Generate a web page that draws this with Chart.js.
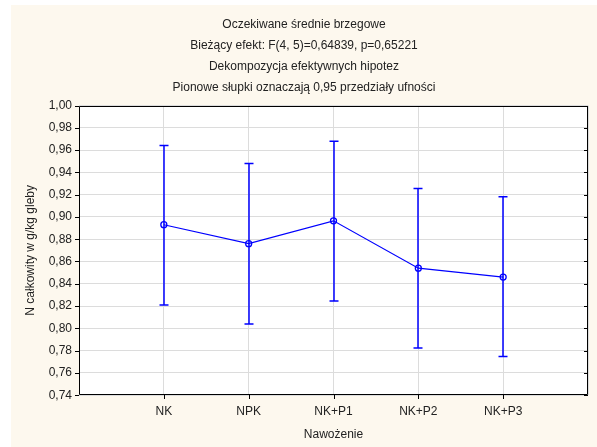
<!DOCTYPE html>
<html><head><meta charset="utf-8">
<script src="https://cdn.jsdelivr.net/npm/chart.js@4.4.0/dist/chart.umd.min.js"></script>
<style>
html,body{margin:0;padding:0;background:#fff;overflow:hidden;}
#wrap{position:absolute;left:0;top:0;width:597px;height:447px;}
canvas{display:block;}
</style></head>
<body><div id="wrap"><canvas id="c" width="597" height="447"></canvas></div>
<script>
const categories = ['NK', 'NPK', 'NK+P1', 'NK+P2', 'NK+P3'];
const means = [0.893, 0.876, 0.8965, 0.854, 0.846];
const lowerCI = [0.821, 0.804, 0.8246, 0.7823, 0.7748];
const upperCI = [0.964, 0.948, 0.968, 0.9256, 0.918];
const titleLines = ['Oczekiwane średnie brzegowe', 'Bieżący efekt: F(4, 5)=0,64839, p=0,65221', 'Dekompozycja efektywnych hipotez', 'Pionowe słupki oznaczają 0,95 przedziały ufności'];
const yTitle = 'N całkowity w g/kg gleby';
const xTitle = 'Nawożenie';

const points = categories.map((c, i) => ({ x: i + 1, y: means[i] }));
const FONT = 'Liberation Sans, Arial, sans-serif';

const bgPlugin = {
  id: 'bg',
  beforeDraw(chart) {
    const ctx = chart.ctx, a = chart.chartArea;
    ctx.save();
    ctx.fillStyle = '#fdf8ee';
    ctx.fillRect(11, 5, chart.width - 11, chart.height - 5);
    ctx.fillStyle = '#ffffff';
    ctx.fillRect(a.left, a.top, a.right - a.left, a.bottom - a.top);
    ctx.restore();
  },
  afterDatasetsDraw(chart) {
    const ctx = chart.ctx;
    const xs = chart.scales.x, ys = chart.scales.y;
    ctx.save();
    ctx.strokeStyle = '#0000ff';
    ctx.lineWidth = 1.5;
    for (let i = 0; i < categories.length; i++) {
      const x = Math.round(xs.getPixelForValue(i + 1));
      const yl = ys.getPixelForValue(lowerCI[i]);
      const yu = ys.getPixelForValue(upperCI[i]);
      ctx.beginPath();
      ctx.moveTo(x, yl); ctx.lineTo(x, yu);
      ctx.moveTo(x - 4.5, yl); ctx.lineTo(x + 4.5, yl);
      ctx.moveTo(x - 4.5, yu); ctx.lineTo(x + 4.5, yu);
      ctx.stroke();
    }
    ctx.restore();
  },
  afterDraw(chart) {
    const ctx = chart.ctx, a = chart.chartArea;
    const xs = chart.scales.x, ys = chart.scales.y;
    const L = Math.round(a.left), R = Math.round(a.right), T = Math.round(a.top), B = Math.round(a.bottom);
    ctx.save();
    ctx.strokeStyle = '#000';
    ctx.lineWidth = 1;
    ctx.beginPath();
    ctx.moveTo(L + 0.5, T + 0.5); ctx.lineTo(R - 0.5, T + 0.5);
    ctx.lineTo(R - 0.5, B - 0.5); ctx.lineTo(L + 0.5, B - 0.5); ctx.closePath();
    ys.ticks.forEach(t => {
      const y = Math.round(ys.getPixelForValue(t.value)) + 0.5;
      ctx.moveTo(R - 4, y); ctx.lineTo(R, y);
      ctx.moveTo(L - 4, y); ctx.lineTo(L, y);
    });
    for (let v = 1; v <= categories.length; v++) {
      const x = Math.round(xs.getPixelForValue(v)) + 0.5;
      ctx.moveTo(x, B); ctx.lineTo(x, B + 4);
    }
    ctx.stroke();
    ctx.restore();
  }
};

new Chart(document.getElementById('c'), {
  type: 'line',
  data: {
    datasets: [{
      data: points,
      borderColor: '#0000ff',
      borderWidth: 1.2,
      pointRadius: 3,
      pointBorderWidth: 1.3,
      pointBackgroundColor: 'rgba(255,255,255,0)',
      pointBorderColor: '#0000ff',
      tension: 0,
      fill: false
    }]
  },
  options: {
    responsive: false,
    animation: false,
    devicePixelRatio: 1,
    layout: { padding: { left: 16, right: 5, top: 0, bottom: 0 } },
    plugins: {
      legend: { display: false },
      tooltip: { enabled: false },
      title: {
        display: true,
        text: titleLines,
        color: '#222',
        font: { family: FONT, size: 12, weight: 'normal', lineHeight: 1.75 },
        padding: { top: 14.5, bottom: 7 }
      }
    },
    scales: {
      x: {
        type: 'linear',
        min: 0, max: categories.length + 1,
        grid: { color: '#dcdcdc', lineWidth: 1, drawTicks: false },
        border: { display: false },
        afterBuildTicks(s) { s.ticks = []; for (let v = 0; v <= categories.length + 1; v++) s.ticks.push({ value: v }); },
        ticks: {
          color: '#222', font: { family: FONT, size: 12 }, maxRotation: 0, autoSkip: false, padding: 9,
          callback: v => (v >= 1 && v <= categories.length) ? categories[v - 1] : ''
        },
        title: { display: true, text: xTitle, color: '#222', font: { family: FONT, size: 12 }, padding: { top: 0, bottom: 5 } }
      },
      y: {
        min: 0.74, max: 1.00,
        afterFit(s) { s.width = 79 - 16; },
        grid: { color: '#dcdcdc', lineWidth: 1, drawTicks: false },
        border: { display: false },
        ticks: {
          stepSize: 0.02, color: '#222', font: { family: FONT, size: 12 }, padding: 7,
          callback: v => v.toFixed(2).replace('.', ',')
        },
        title: { display: true, text: yTitle, color: '#222', font: { family: FONT, size: 12 }, padding: { top: 7, bottom: 4 } }
      }
    }
  },
  plugins: [bgPlugin]
});
</script></body></html>
